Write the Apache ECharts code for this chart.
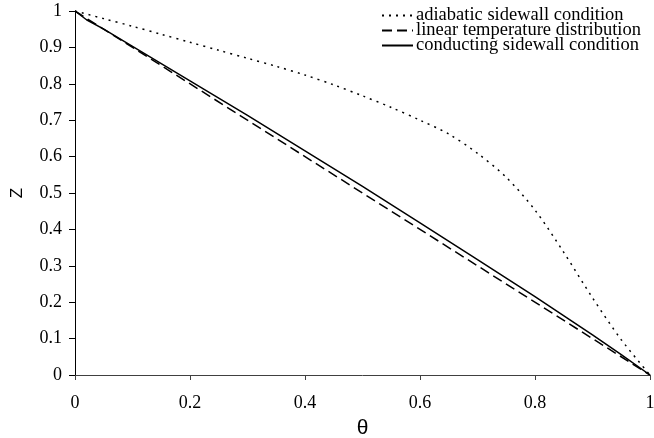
<!DOCTYPE html>
<html>
<head>
<meta charset="utf-8">
<script src="https://cdn.jsdelivr.net/npm/echarts@6/dist/echarts.min.js"></script>
<style>html,body{margin:0;padding:0;background:#fff;}#c{width:654px;height:438px;}</style>
</head>
<body>
<div id="c"></div>
<script>
var thetaAdiabatic = [0, 0.05, 0.1, 0.15, 0.2, 0.25, 0.3, 0.35, 0.4, 0.45, 0.5, 0.55, 0.6, 0.65, 0.7, 0.75, 0.8, 0.85, 0.9, 0.95, 1];
var zAdiabatic     = [1, 0.979, 0.958, 0.936, 0.914, 0.892, 0.870, 0.848, 0.824, 0.797, 0.767, 0.735, 0.700, 0.662, 0.609, 0.543, 0.453, 0.337, 0.212, 0.097, 0];
var thetaLinear = [0, 1];
var zLinear     = [1, 0];
var thetaConducting = [0, 0.02, 0.05, 0.1, 0.2, 0.3, 0.4, 0.5, 0.6, 0.7, 0.8, 0.9, 0.95, 1];
var zConducting     = [1, 0.976, 0.95, 0.903, 0.808, 0.713, 0.616, 0.518, 0.418, 0.317, 0.215, 0.11, 0.056, 0];
var seriesNames = ['adiabatic sidewall condition', 'linear temperature distribution', 'conducting sidewall condition'];

function pairs(xs, ys) { return xs.map(function (x, i) { return [x, ys[i]]; }); }

var serif = '"Liberation Serif", "DejaVu Serif", serif';
var sans = '"Liberation Sans", Arial, sans-serif';

var chart = echarts.init(document.getElementById('c'), null, { renderer: 'canvas' });
chart.setOption({
  animation: false,
  backgroundColor: '#fff',
  grid: { left: 75, right: 4, top: 11, bottom: 63, outerBoundsMode: 'none', containLabel: false },
  legend: {
    orient: 'vertical',
    left: 381,
    top: 6,
    padding: 0,
    itemWidth: 31,
    itemHeight: 10,
    itemGap: -4,
    itemStyle: { opacity: 0 },
    textStyle: { fontFamily: serif, fontSize: 18.5, lineHeight: 14, color: '#000', padding: [0, 0, 0, -2] },
    data: seriesNames
  },
  xAxis: {
    type: 'value', min: 0, max: 1, interval: 0.2,
    name: 'θ', nameLocation: 'middle', nameGap: 43,
    nameTextStyle: { fontFamily: sans, fontSize: 21, color: '#000' },
    axisLine: { show: true, lineStyle: { color: '#404040', width: 1 } },
    axisTick: { show: true, inside: false, length: 5, lineStyle: { color: '#404040' } },
    axisLabel: { margin: 19, fontFamily: serif, fontSize: 18, color: '#000' },
    splitLine: { show: false }
  },
  yAxis: {
    type: 'value', min: 0, max: 1, interval: 0.1,
    name: 'Z', nameLocation: 'middle', nameGap: 49,
    nameTextStyle: { fontFamily: sans, fontSize: 17, color: '#000' },
    axisLine: { show: true, lineStyle: { color: '#000', width: 1 } },
    axisTick: { show: true, inside: false, length: 6, lineStyle: { color: '#000' } },
    axisLabel: { margin: 13, fontFamily: serif, fontSize: 18, color: '#000' },
    splitLine: { show: false }
  },
  series: [
    { name: seriesNames[0], type: 'line', data: pairs(thetaAdiabatic, zAdiabatic), smooth: 0.3,
      showSymbol: false, symbol: 'none',
      lineStyle: { color: '#000', width: 1.5, type: [2, 5] }, itemStyle: { color: '#000' } },
    { name: seriesNames[1], type: 'line', data: pairs(thetaLinear, zLinear),
      showSymbol: false, symbol: 'none',
      lineStyle: { color: '#000', width: 1.5, type: [10, 5] }, itemStyle: { color: '#000' } },
    { name: seriesNames[2], type: 'line', data: pairs(thetaConducting, zConducting),
      showSymbol: false, symbol: 'none',
      lineStyle: { color: '#000', width: 1.5, type: 'solid' }, itemStyle: { color: '#000' } }
  ]
});
</script>
</body>
</html>
